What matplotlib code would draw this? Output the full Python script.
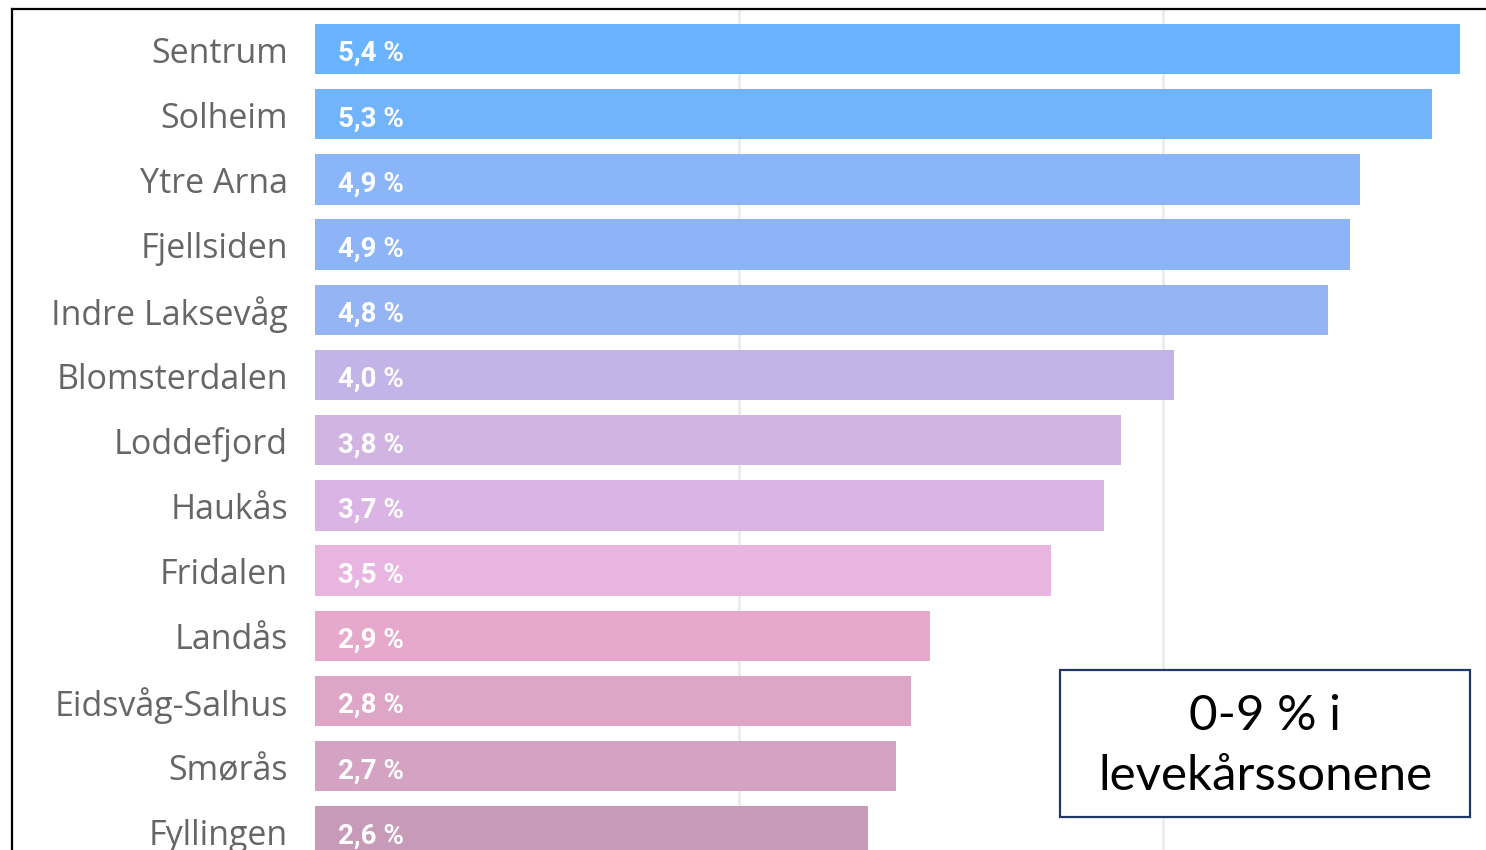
import matplotlib.pyplot as plt
from matplotlib.lines import Line2D
from matplotlib.patches import Rectangle

zones = ["Sentrum", "Solheim", "Ytre Arna", "Fjellsiden", "Indre Laksevåg",
         "Blomsterdalen", "Loddefjord", "Haukås", "Fridalen", "Landås",
         "Eidsvåg-Salhus", "Smørås", "Fyllingen"]
shares = [5.40, 5.27, 4.93, 4.88, 4.78, 4.05, 3.80, 3.72, 3.47, 2.90, 2.81, 2.74, 2.61]
labels = ["5,4 %", "5,3 %", "4,9 %", "4,9 %", "4,8 %", "4,0 %", "3,8 %",
          "3,7 %", "3,5 %", "2,9 %", "2,8 %", "2,7 %", "2,6 %"]
colors = ["#6AB4FF", "#72B4FC", "#8AB5F8", "#8DB4F6", "#94B4F3", "#C3B4E8",
          "#D2B4E3", "#DAB4E4", "#E8B4E0", "#E6A9CB", "#DDA6C6", "#D4A2C2", "#C69AB8"]

W, H = 1486, 850
fig = plt.figure(figsize=(W / 100, H / 100), dpi=100)
fig.patch.set_facecolor("white")

# axes from zero line (x=315px) to right edge, full height below the frame
ax = fig.add_axes([315 / W, 0, 1 - 315 / W, 1 - 10 / H])
pitch = 65.2
ax.set_ylim((850 - 49) / pitch, (10 - 49) / pitch)
ax.set_xlim(0, (W - 315) / 212.0)

ypos = list(range(len(zones)))
ax.barh(ypos, shares, height=0.77, color=colors, zorder=2)

for y, lab in zip(ypos, labels):
    ax.text(0.11, y + 0.07, lab, color="white", fontsize=20, fontweight="bold",
            family="Roboto", va="center", ha="left", zorder=3)

for y, name in zip(ypos, zones):
    ax.text(-27 / 212.0, y + 0.07, name, color="#666666", fontsize=24.5,
            family="Open Sans", va="center", ha="right", clip_on=False)

ax.set_xticks([2, 4])
ax.xaxis.grid(True, color="#ebebeb", linewidth=2, zorder=0)
ax.tick_params(left=False, bottom=False, labelleft=False, labelbottom=False)
for s in ax.spines.values():
    s.set_visible(False)

# outer frame (left and top)
fig.add_artist(Line2D([12 / W, 12 / W], [0, 1 - 9 / H], color="black", lw=1.6))
fig.add_artist(Line2D([12 / W, 1], [1 - 9 / H, 1 - 9 / H], color="black", lw=1.6))

# annotation box
fig.add_artist(Rectangle((1060 / W, 1 - 817 / H), 410 / W, 147 / H,
                         transform=fig.transFigure, facecolor="white",
                         edgecolor="#1F3864", lw=1.6, zorder=5))
fig.text(1265 / W, 1 - 746 / H, "0-9 % i\nlevekårssonene", ha="center", va="center",
         fontsize=35.5, family="Lato", linespacing=1.45, zorder=6)

fig.savefig("out.png", dpi=100)
